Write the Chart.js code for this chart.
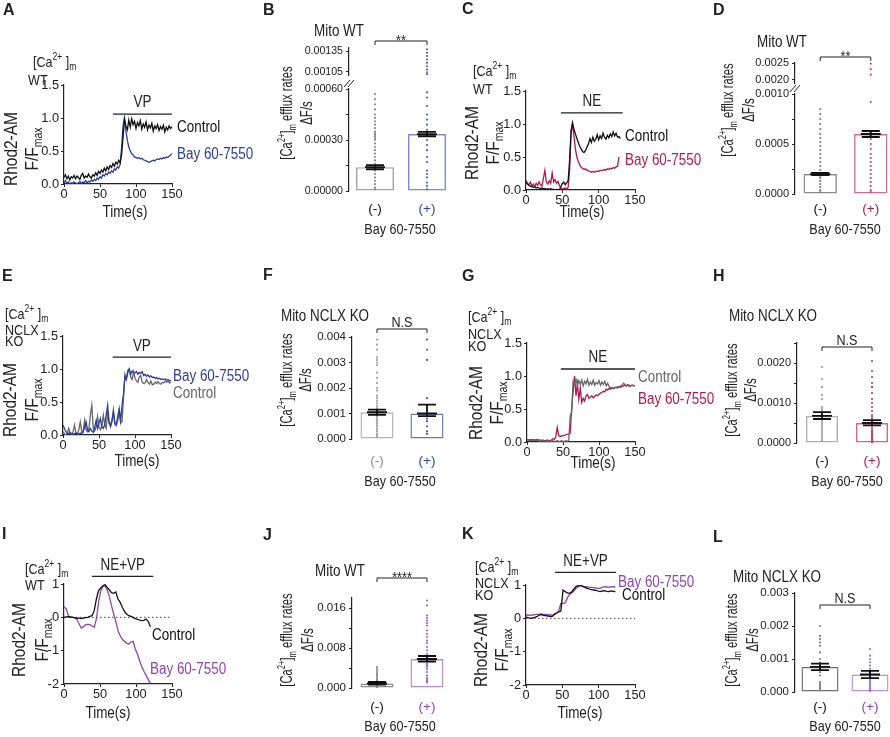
<!DOCTYPE html>
<html>
<head>
<meta charset="utf-8">
<title>Mitochondrial Ca2+ efflux</title>
<script src="https://cdn.jsdelivr.net/npm/chart.js@4.4.1/dist/chart.umd.min.js"></script>
<style>
  html, body { margin: 0; padding: 0; background: #fff; }
  body { position: relative; width: 890px; height: 737px; overflow: hidden; }
  canvas { position: absolute; }
</style>
</head>
<body>
<script>
// ---------- shared axis values ----------
const timeTicks = [0, 50, 100, 150];
const timeLabels = ['0', '50', '100', '150'];
const fTicks = [0, 0.5, 1, 1.5];
const fLabels = ['0.0', '0.5', '1.0', '1.5'];
const dTicks = [-2, -1, 0, 1];
const dLabels = ['-2', '-1', '0', '1'];
const groups = ['(-)', '(+)'];

// ---------- traces (F/Fmax, one value every dt seconds) ----------
const aCtrl = [0.10,0.14,0.08,0.12,0.06,0.11,0.09,0.13,0.08,0.12,0.10,0.07,0.13,0.16,0.09,0.12,0.10,0.15,0.11,0.09,
  0.14,0.12,0.17,0.13,0.19,0.16,0.21,0.18,0.24,0.20,0.26,0.22,0.28,0.25,0.31,0.27,0.33,0.30,0.36,0.32,
  0.45,0.70,0.98,0.88,0.82,0.97,0.86,0.99,0.90,0.95,0.84,0.93,0.88,0.96,0.83,0.91,0.86,0.94,0.82,0.89,
  0.85,0.92,0.80,0.88,0.84,0.90,0.81,0.87,0.83,0.89,0.79,0.86,0.82,0.88,0.84,0.87];
const aBay = [0.02,0.05,0.01,0.03,0.00,0.02,0.01,0.03,0.02,0.00,0.02,0.04,0.01,0.03,0.02,0.05,0.02,0.04,0.03,0.06,
  0.04,0.07,0.05,0.09,0.07,0.11,0.09,0.14,0.12,0.16,0.14,0.18,0.16,0.20,0.18,0.23,0.21,0.26,0.24,0.30,
  0.55,0.88,1.00,0.80,0.66,0.56,0.50,0.46,0.44,0.41,0.40,0.39,0.40,0.38,0.39,0.37,0.36,0.35,0.34,0.33,
  0.34,0.35,0.36,0.35,0.37,0.38,0.37,0.39,0.38,0.40,0.39,0.41,0.40,0.42,0.44,0.46];
const cCtrl = [0.12,0.09,0.07,0.06,0.05,0.04,0.05,0.03,0.04,0.03,0.02,0.03,0.02,0.02,0.01,0.02,0.01,0.02,0.01,0.01,
  0.00,0.01,0.00,0.01,0.05,0.10,0.12,0.08,0.11,0.14,0.45,0.90,1.02,0.92,0.85,0.78,0.72,0.66,0.62,0.58,
  0.57,0.60,0.65,0.70,0.78,0.72,0.80,0.74,0.77,0.84,0.76,0.82,0.78,0.86,0.80,0.77,0.83,0.79,0.85,0.81,
  0.88,0.82,0.86,0.80,0.81,0.78];
const cBay = [0.15,0.10,0.08,0.12,0.06,0.09,0.05,0.10,0.07,0.12,0.08,0.06,0.18,0.30,0.12,0.09,0.14,0.10,0.26,0.12,
  0.16,0.10,0.13,0.07,0.03,0.02,0.02,0.03,0.02,0.04,0.30,0.85,1.00,0.82,0.62,0.50,0.43,0.38,0.34,0.33,
  0.31,0.32,0.30,0.29,0.28,0.27,0.28,0.27,0.28,0.29,0.28,0.30,0.29,0.30,0.31,0.30,0.32,0.31,0.33,0.32,
  0.34,0.33,0.35,0.36,0.50];
const eCtrl = [0.05,0.02,0.00,0.03,0.10,0.02,0.01,0.05,0.15,0.03,0.02,0.08,0.20,0.05,0.04,0.22,0.08,0.05,0.10,0.30,
  0.45,0.10,0.06,0.12,0.28,0.12,0.08,0.14,0.30,0.15,0.10,0.33,0.18,0.12,0.20,0.38,0.16,0.14,0.22,0.35,
  0.18,0.20,0.55,0.92,0.85,0.98,1.00,0.88,0.84,0.96,0.86,0.82,0.80,0.88,0.90,0.80,0.78,0.79,0.84,0.80,
  0.77,0.82,0.76,0.77,0.80,0.78,0.81,0.78,0.77,0.80,0.79,0.82,0.80,0.81,0.79,0.80];
const eBay = [0.15,0.10,0.05,0.03,0.02,0.04,0.02,0.01,0.02,0.03,0.02,0.01,0.03,0.02,0.05,0.12,0.20,0.08,0.05,0.10,
  0.06,0.04,0.12,0.22,0.10,0.18,0.25,0.12,0.10,0.16,0.30,0.45,0.20,0.15,0.22,0.35,0.18,0.16,0.28,0.40,
  0.22,0.45,0.62,0.88,0.84,0.95,1.00,0.92,0.97,0.95,0.94,0.96,0.92,0.95,0.93,0.96,0.90,0.92,0.89,0.91,
  0.88,0.90,0.87,0.88,0.86,0.87,0.85,0.86,0.84,0.85,0.84,0.85,0.83,0.84,0.82,0.83];
const gCtrl = [0.03,0.03,0.02,0.03,0.02,0.02,0.03,0.02,0.02,0.01,0.02,0.02,0.01,0.02,0.01,0.02,0.01,0.01,0.02,0.01,
  0.01,0.02,0.01,0.01,0.02,0.01,0.01,0.02,0.01,0.02,0.40,0.45,0.92,0.88,0.95,0.86,0.93,0.87,0.94,0.85,
  0.92,0.88,0.95,0.86,0.91,0.87,0.94,0.86,0.90,0.88,0.93,0.86,0.91,0.87,0.92,0.85,0.89,0.84,0.82,0.83,
  0.81,0.83,0.82,0.84,0.83,0.85,0.86,0.89,0.87,0.85,0.86,0.84,0.85,0.86,0.85,0.85];
const gBay = [0.04,0.03,0.04,0.03,0.04,0.03,0.03,0.04,0.03,0.03,0.02,0.03,0.02,0.02,0.03,0.02,0.02,0.03,0.05,0.04,
  0.08,0.22,0.10,0.08,0.10,0.09,0.10,0.11,0.12,0.12,0.13,0.50,0.75,1.00,0.70,0.88,0.65,0.82,0.60,0.66,
  0.62,0.70,0.72,0.66,0.68,0.70,0.67,0.69,0.71,0.70,0.72,0.74,0.75,0.77,0.76,0.80,0.79,0.81,0.80,0.82,
  0.81,0.82,0.83,0.82,0.84,0.83,0.84,0.85,0.86,0.85,0.87,0.86,0.85,0.86,0.85,0.86];
const iCtrl = [0.00,0.01,0.02,0.01,0.00,-0.01,-0.03,-0.02,-0.04,-0.02,-0.01,0.00,0.03,0.05,0.20,0.55,0.80,0.88,0.95,0.98,
  0.90,0.82,0.74,0.72,0.76,0.55,0.45,0.30,0.18,0.10,0.05,0.03,0.00,-0.04,-0.06,-0.08,-0.10,-0.09,-0.05,-0.12,-0.28];
const iBay = [0.32,0.26,0.05,0.00,0.00,-0.02,-0.06,-0.20,-0.32,-0.28,-0.22,-0.21,-0.22,-0.26,-0.30,-0.05,0.45,0.80,0.92,0.95,
  0.82,0.62,0.35,0.10,-0.12,-0.40,-0.55,-0.66,-0.72,-0.78,-0.80,-0.74,-0.72,-0.95,-1.10,-1.30,-1.48,-1.62,-1.74,-1.86,-1.98];
const kCtrl = [0.04,0.02,0.00,0.01,0.03,0.05,0.10,0.11,0.09,0.08,0.07,0.06,0.05,0.12,0.16,0.19,0.22,0.85,0.80,0.76,
  0.75,0.80,0.88,0.96,0.98,1.00,0.96,0.93,0.90,0.88,0.86,0.85,0.84,0.82,0.80,0.82,0.83,0.81,0.80,0.82,0.81,0.80];
const kBay = [0.10,0.10,0.09,0.10,0.11,0.12,0.12,0.13,0.12,0.12,0.11,0.10,0.10,0.11,0.15,0.22,0.45,0.45,0.46,0.62,
  0.72,0.76,0.82,0.90,0.95,0.97,0.96,0.95,0.94,0.93,0.93,0.92,0.91,0.90,0.90,0.93,0.95,0.94,0.93,0.95,0.94,0.95];

// ---------- efflux rates (dF/s): means, SEM limits, single cells ----------
const bMeans = [0.00014, 0.000335];
const bLo = [0.000128, 0.000322];
const bHi = [0.000152, 0.000348];
const bNeg = [0.00057,0.00054,0.00051,0.00048,0.00045,0.00043,0.00041,0.00039,0.00037,0.00035,0.00034,0.00033,0.00032,0.00031,0.0003,
  0.00028,0.00026,0.00024,0.00022,0.0002,0.00018,0.00016,0.00015,0.00014,0.00013,0.00012,0.0001,0.00008,0.00006,0.00004,0.00002,0.00001];
const bPos = [0.00058,0.00055,0.0005,0.00045,0.00042,0.00039,0.00036,0.00033,0.0003,0.00027,0.00024,0.0002,0.00017,0.00012,0.0001,0.00008,0.00005,0.00003,0.00001];
const bPosHigh = [0.00138,0.00133,0.00128,0.00123,0.00118,0.00113,0.00108,0.00104,0.00101];

const dMeans = [0.0002, 0.0006];
const dLo = [0.00019, 0.00057];
const dHi = [0.00021, 0.00063];
const dNeg = [0.00085,0.0008,0.00075,0.0007,0.00065,0.0006,0.00056,0.00052,0.00048,0.00044,0.0004,0.00036,0.00032,0.00028,0.00024,0.0002,0.00018,0.00016,0.00013,0.0001,0.00007,0.00004,0.00002];
const dPos = [0.00092,0.00062,0.00058,0.00055,0.0005,0.00045,0.0004,0.00036,0.00032,0.00028,0.00024,0.0002,0.00016,0.00012,0.00008,0.00004,0.00002];
const dPosHigh = [0.00248,0.00232,0.00215];

const fMeans = [0.00105, 0.001];
const fLo = [0.00095, 0.0009];
const fHi = [0.00115, 0.00135];
const fNeg = [0.0039,0.0037,0.0035,0.0032,0.0031,0.003,0.0029,0.0026,0.0024,0.0022,0.002,0.0019,0.0017,0.0016,0.0015,0.0014,0.0013,0.0012,0.0012,0.0011,0.0011,
  0.001,0.001,0.0009,0.0009,0.0008,0.0008,0.0007,0.0007,0.0006,0.0006,0.0005,0.0005,0.0004,0.0004,0.0003,0.0003,0.0002,0.0002,0.0001,0.0001];
const fPos = [0.0039,0.0035,0.0031,0.0016,0.0013,0.001,0.0009,0.0008,0.0007,0.0005,0.0003,0.0002];

const hMeans = [0.00068, 0.0005];
const hLo = [0.0006, 0.00044];
const hHi = [0.00077, 0.00057];
const hNeg = [0.0019,0.0016,0.0014,0.0014,0.0012,0.0011,0.0009,0.00085,0.0008,0.0007,0.0006,0.00055,0.0005,0.00045,0.0004,0.00035,0.0003,0.00025,0.0002,0.00015,0.0001,0.00005];
const hPos = [0.00205,0.0018,0.00165,0.0015,0.0014,0.0014,0.00125,0.0011,0.001,0.0009,0.0008,0.0007,0.00065,0.0006,0.00055,0.0005,0.00045,0.0004,0.00035,0.0003,
  0.00028,0.00025,0.00022,0.0002,0.00018,0.00015,0.00012,0.0001,0.00008,0.00005,0.00003,0.00001];

const jMeans = [0.0009, 0.0058];
const jLo = [0.0007, 0.0053];
const jHi = [0.0012, 0.0064];
const jNeg = [0.0042,0.0038,0.0034,0.003,0.0027,0.0024,0.002,0.0017,0.0015,0.0013,0.0011,0.001,0.0009,0.0008,0.0007,0.0006,0.0005,0.0004,0.0003,0.0002,0.0001];
const jPos = [0.0175,0.0165,0.0145,0.014,0.0135,0.013,0.0125,0.0115,0.0108,0.0102,0.0095,0.009,0.0082,0.0075,0.0068,0.006,0.0056,0.0052,0.0048,0.0045,
  0.0042,0.0038,0.0032,0.0025,0.002,0.0018,0.0015,0.0013,0.0011];

const lMeans = [0.00076, 0.00053];
const lLo = [0.00066, 0.00042];
const lHi = [0.00086, 0.00064];
const lNeg = [0.002,0.0017,0.0016,0.0015,0.0014,0.0012,0.001,0.0009,0.0008,0.0007,0.0006,0.0005,0.0003,0.00025,0.0002,0.00015,0.0001,0.00005];
const lPos = [0.0013,0.0011,0.001,0.0009,0.0008,0.0007,0.0006,0.0005,0.00045,0.0004,0.00035,0.0003,0.00025,0.0002,0.00015,0.0001,0.00008,0.00005,0.00003];

// ---------- look ----------
const INK = '#222';
const BLUE = '#2c3c9c', CRIM = '#b3174f', PURP = '#8e44b3', GRAY = '#666';
const M = { l: 100, t: 100, r: 110, b: 60 };

// narrow font if the system has it, else a regular sans squeezed sideways
const probe = document.createElement('canvas').getContext('2d');
probe.font = '20px monospace';
const wMono = probe.measureText('Control 60-7550').width;
probe.font = '20px "Liberation Sans Narrow", monospace';
const hasNarrow = probe.measureText('Control 60-7550').width !== wMono;
const FAM = hasNarrow ? '"Liberation Sans Narrow", "Arial Narrow", sans-serif' : '"Liberation Sans", Arial, sans-serif';
const KF = hasNarrow ? 1 : 0.85;
const SX = hasNarrow ? 1 : 0.84;
const fs = n => Math.round(n * KF * 10) / 10;

Chart.defaults.font.family = FAM;
Chart.defaults.color = INK;

function place(plot) {
  const c = document.createElement('canvas');
  const w = plot.r - plot.l + M.l + M.r, h = plot.b - plot.t + M.t + M.b;
  c.width = w; c.height = h;
  Object.assign(c.style, { left: (plot.l - M.l) + 'px', top: (plot.t - M.t) + 'px', width: w + 'px', height: h + 'px' });
  document.body.appendChild(c);
  return c;
}

// text with ^sup and _sub pieces
function txt(ctx, parts, x, y, o = {}) {
  const size = o.size || 15;
  const fam = o.bold ? '"Liberation Sans", Arial, sans-serif' : FAM;
  const wt = o.bold ? 'bold ' : '';
  const segs = (Array.isArray(parts) ? parts : [parts]).map(p => {
    if (p[0] === '^') return { s: p.slice(1), f: size * 0.68, dy: -size * 0.4 };
    if (p[0] === '_') return { s: p.slice(1), f: size * 0.68, dy: size * 0.3 };
    return { s: p, f: size, dy: 0 };
  });
  ctx.save();
  ctx.fillStyle = o.color || INK;
  ctx.textBaseline = o.base || 'middle';
  ctx.textAlign = 'left';
  let total = 0;
  segs.forEach(g => { ctx.font = wt + g.f + 'px ' + fam; g.w = ctx.measureText(g.s).width; total += g.w; });
  ctx.translate(x, y);
  if (o.rot) ctx.rotate(-Math.PI / 2);
  if (!o.bold && !hasNarrow) ctx.scale(o.sx || SX, 1);
  let cx = o.align === 'center' ? -total / 2 : o.align === 'right' ? -total : 0;
  segs.forEach(g => { ctx.font = wt + g.f + 'px ' + fam; ctx.fillText(g.s, cx, g.dy); cx += g.w; });
  ctx.restore();
}

function axis(kind, min, max, ticks, labels, size, pad) {
  return {
    type: 'linear', min, max,
    afterBuildTicks: s => { s.ticks = ticks.map(v => ({ value: v })); },
    afterFit: s => { if (kind === 'x') s.height = M.b; else s.width = M.l; },
    grid: { drawOnChartArea: false, drawTicks: true, tickLength: 3, color: INK, lineWidth: 1 },
    border: { display: true, color: INK, width: 1.2 },
    ticks: { padding: pad, color: INK, font: { size: fs(size) }, autoSkip: false, maxRotation: 0,
      callback: (v, i) => labels[i] }
  };
}

function baseOpts(scales, hiddenX) {
  return {
    responsive: false, animation: false, events: [],
    layout: { padding: { left: 0, top: M.t, right: M.r, bottom: hiddenX ? M.b : 0 } },
    plugins: { legend: { display: false }, tooltip: { enabled: false } },
    scales
  };
}

function tracePanel(p) {
  const cv = place(p.plot);
  const ox = p.plot.l - M.l, oy = p.plot.t - M.t;
  new Chart(cv, {
    type: 'line',
    data: { datasets: p.series.map(s => ({
      data: s.y.map((v, i) => ({ x: i * s.dt, y: v })),
      borderColor: s.color, borderWidth: 1.3, pointRadius: 0, tension: 0, fill: false
    })) },
    options: baseOpts({
      x: axis('x', 0, 150, timeTicks, timeLabels, 15, 0),
      y: axis('y', p.ymin, p.ymax, p.yTicks, p.yLabels, 15, 2)
    }),
    plugins: [{
      id: 'anno',
      beforeDatasetsDraw(ch) {
        if (!p.zero) return;
        const { x, y } = ch.scales, c = ch.ctx, y0 = y.getPixelForValue(0);
        c.save(); c.strokeStyle = '#444'; c.lineWidth = 1; c.setLineDash([1.5, 2.5]);
        c.beginPath(); c.moveTo(x.getPixelForValue(0), y0); c.lineTo(x.getPixelForValue(150), y0); c.stroke();
        c.restore();
      },
      afterDraw(ch) {
        const { x, y } = ch.scales, c = ch.ctx, d = p.drug;
        const x1 = x.getPixelForValue(d.from), x2 = x.getPixelForValue(d.to), yb = y.getPixelForValue(d.y);
        c.save(); c.strokeStyle = INK; c.lineWidth = 1.3;
        c.beginPath(); c.moveTo(x1, yb); c.lineTo(x2, yb); c.stroke(); c.restore();
        txt(c, d.text, (x1 + x2) / 2, yb - 11, { align: 'center', size: 16 });
        p.labels.forEach(l => txt(c, l[0], l[1] - ox, l[2] - oy, { color: l[3], size: 16 }));
        p.head.forEach(h => txt(c, h[0], h[1] - ox, h[2] - oy, { size: 15 }));
        txt(c, 'Rhod2-AM', p.yt[0] - ox, p.yt[2] - oy, { rot: true, align: 'center', size: 18, sx: 0.86 });
        txt(c, ['F/F', '_max'], p.yt[1] - ox, p.yt[2] - oy, { rot: true, align: 'center', size: 18, sx: 0.86 });
        txt(c, 'Time(s)', p.time[0] - ox, p.time[1] - oy, { align: 'center', size: 16 });
        txt(c, p.letter[0], p.letter[1] - ox, p.letter[2] - oy, { bold: true, size: 16 });
      }
    }]
  });
}

function dots(vals, g, col) {
  return { type: 'scatter', data: vals.map(v => ({ x: groups[g], y: v })), order: 1,
    pointRadius: 1.1, backgroundColor: col, borderColor: col, pointBorderWidth: 0 };
}

function barPanel(p) {
  const cv = place(p.plot);
  const ox = p.plot.l - M.l, oy = p.plot.t - M.t;
  new Chart(cv, {
    type: 'bar',
    data: { labels: groups, datasets: [
      { data: p.means, backgroundColor: 'rgba(255,255,255,0)', borderColor: p.barColors, borderWidth: 1.4,
        borderSkipped: false, barPercentage: p.barW, categoryPercentage: 1, order: 2 },
      dots(p.neg, 0, p.dotColors[0]),
      dots(p.pos, 1, p.dotColors[1])
    ] },
    options: baseOpts({
      x: { type: 'category', offset: true, afterFit: s => { s.height = M.b; },
        grid: { display: false, drawTicks: false }, border: { display: false },
        ticks: { padding: p.catPad, font: { size: fs(16) }, color: c => p.catColors[c.index] } },
      y: axis('y', 0, p.ymax, p.yTicks, p.yLabels, p.tickSize, 3)
    }),
    plugins: [{
      id: 'sem',
      afterDatasetsDraw(ch) {
        const c = ch.ctx, ys = ch.scales.y, h = 9;
        c.save(); c.strokeStyle = '#111'; c.lineWidth = 1.8;
        ch.getDatasetMeta(0).data.forEach((bar, i) => {
          const yl = ys.getPixelForValue(p.lo[i]), yh = ys.getPixelForValue(p.hi[i]);
          c.beginPath();
          c.moveTo(bar.x, yl); c.lineTo(bar.x, yh);
          c.moveTo(bar.x - h, yl); c.lineTo(bar.x + h, yl);
          c.moveTo(bar.x - h, yh); c.lineTo(bar.x + h, yh);
          c.moveTo(bar.x - h - 1, bar.y); c.lineTo(bar.x + h + 1, bar.y);
          c.stroke();
        });
        c.restore();
      },
      afterDraw(ch) {
        const c = ch.ctx, xs = ch.scales.x;
        const x1 = xs.getPixelForValue(0), x2 = xs.getPixelForValue(1), yb = p.br - oy;
        c.save(); c.strokeStyle = INK; c.lineWidth = 1;
        c.beginPath(); c.moveTo(x1, yb + 4); c.lineTo(x1, yb); c.lineTo(x2, yb); c.lineTo(x2, yb + 4); c.stroke();
        if (p.upper) {
          const L = ch.chartArea.left, T = ch.chartArea.top;
          c.beginPath();
          c.moveTo(L - 5, T - 2); c.lineTo(L + 1, T - 9);
          c.moveTo(L - 1, T - 2); c.lineTo(L + 5, T - 9);
          c.stroke();
        }
        c.restore();
        txt(c, p.sig, (x1 + x2) / 2, p.sigY - oy, { align: 'center', size: 15, base: 'alphabetic' });
        txt(c, p.title[0], p.title[1] - ox, p.title[2] - oy, { align: 'center', size: 16 });
        txt(c, ['[Ca', '^2+', ']', '_m', ' efflux rates'], p.yt[0] - ox, p.yt[2] - oy, { rot: true, align: 'center', size: 16, sx: 0.7 });
        txt(c, 'ΔF/s', p.yt[1] - ox, p.yt[2] - oy, { rot: true, align: 'center', size: 16, sx: 0.72 });
        txt(c, 'Bay 60-7550', p.bay[0] - ox, p.bay[1] - oy, { align: 'center', size: 15 });
        txt(c, p.letter[0], p.letter[1] - ox, p.letter[2] - oy, { bold: true, size: 16 });
      }
    }]
  });
  if (p.upper) {
    const u = p.upper;
    const cu = place({ l: p.plot.l, r: p.plot.r, t: u.t, b: u.b });
    new Chart(cu, {
      type: 'bar',
      data: { labels: groups, datasets: [dots(u.pos, 1, p.dotColors[1])] },
      options: baseOpts({
        x: { type: 'category', offset: true, display: false },
        y: axis('y', u.min, u.max, u.ticks, u.labels, p.tickSize, 3)
      }, true)
    });
  }
}

// ---------- panels ----------
const ca = ['[Ca', '^2+', ' ]', '_m'];

tracePanel({ plot: { l: 64, r: 172, t: 85, b: 184 }, ymin: 0, ymax: 1.5, yTicks: fTicks, yLabels: fLabels,
  series: [{ y: aCtrl, dt: 2, color: '#111' }, { y: aBay, dt: 2, color: BLUE }],
  drug: { text: 'VP', from: 68, to: 150, y: 1.06 },
  labels: [['Control', 177, 128, '#111'], ['Bay 60-7550', 177, 155, BLUE]],
  head: [[ca, 33, 63], ['WT', 28, 81]], yt: [12, 33, 149], time: [125, 213], letter: ['A', 3, 11] });

tracePanel({ plot: { l: 526, r: 635, t: 91, b: 190 }, ymin: 0, ymax: 1.5, yTicks: fTicks, yLabels: fLabels,
  series: [{ y: cCtrl, dt: 2, color: '#111' }, { y: cBay, dt: 2, color: CRIM }],
  drug: { text: 'NE', from: 48, to: 133, y: 1.17 },
  labels: [['Control', 625, 137, '#111'], ['Bay 60-7550', 625, 161, CRIM]],
  head: [[ca, 473, 72], ['WT', 473, 90]], yt: [473, 494, 143], time: [582, 213], letter: ['C', 462, 10] });

tracePanel({ plot: { l: 63, r: 171, t: 336, b: 435 }, ymin: 0, ymax: 1.5, yTicks: fTicks, yLabels: fLabels,
  series: [{ y: eBay, dt: 2, color: BLUE }, { y: eCtrl, dt: 2, color: GRAY }],
  drug: { text: 'VP', from: 69, to: 150, y: 1.18 },
  labels: [['Bay 60-7550', 173, 377, BLUE], ['Control', 173, 394, GRAY]],
  head: [[ca, 5, 315], ['NCLX', 5, 331], ['KO', 5, 342]], yt: [11, 33, 400], time: [137, 462], letter: ['E', 2, 277] });

tracePanel({ plot: { l: 527, r: 635, t: 343, b: 442 }, ymin: 0, ymax: 1.5, yTicks: fTicks, yLabels: fLabels,
  series: [{ y: gCtrl, dt: 2, color: GRAY }, { y: gBay, dt: 2, color: CRIM }],
  drug: { text: 'NE', from: 47, to: 150, y: 1.106 },
  labels: [['Control', 638, 378, GRAY], ['Bay 60-7550', 638, 400, CRIM]],
  head: [[ca, 468, 318], ['NCLX', 468, 335], ['KO', 468, 347]], yt: [477, 498, 403], time: [593, 464], letter: ['G', 462, 277] });

tracePanel({ plot: { l: 64, r: 172, t: 584, b: 684 }, ymin: -2, ymax: 1, yTicks: dTicks, yLabels: dLabels, zero: true,
  series: [{ y: iCtrl, dt: 3, color: '#111' }, { y: iBay, dt: 3, color: PURP }],
  drug: { text: 'NE+VP', from: 39, to: 124, y: 1.23 },
  labels: [['Control', 152, 636, '#111'], ['Bay 60-7550', 150, 670, PURP]],
  head: [[ca, 25, 570], ['WT', 25, 586]], yt: [20, 43, 640], time: [108, 714], letter: ['I', 2, 535] });

tracePanel({ plot: { l: 526, r: 635, t: 585, b: 685 }, ymin: -2, ymax: 1, yTicks: dTicks, yLabels: dLabels, zero: true,
  series: [{ y: kCtrl, dt: 3, color: '#111' }, { y: kBay, dt: 3, color: PURP }],
  drug: { text: 'NE+VP', from: 40, to: 124, y: 1.38 },
  labels: [['Bay 60-7550', 618, 583, PURP], ['Control', 622, 596, '#111']],
  head: [[ca, 475, 568], ['NCLX', 475, 584], ['KO', 475, 596]], yt: [482, 503, 650], time: [580, 714], letter: ['K', 462, 535] });

barPanel({ plot: { l: 349, r: 453, t: 89, b: 191 }, ymax: 0.0006,
  yTicks: [0, 0.00015, 0.0003, 0.00045, 0.0006], yLabels: ['0.00000', '', '0.00030', '', '0.00060'], tickSize: 12.5,
  means: bMeans, lo: bLo, hi: bHi, neg: bNeg, pos: bPos,
  barColors: ['#a3a3a3', '#7f88d0'], dotColors: ['#8a8a8a', '#5560b8'], catColors: ['#111', '#3447a5'], barW: 0.73, catPad: 10,
  upper: { t: 48, b: 75, min: 0.001, max: 0.0014, ticks: [0.00105, 0.00135], labels: ['0.00105', '0.00135'], pos: bPosHigh },
  title: ['Mito WT', 339, 32], br: 41, sig: '**', sigY: 45, yt: [288, 308, 113], bay: [400, 230], letter: ['B', 263, 11] });

barPanel({ plot: { l: 795, r: 896, t: 94, b: 194 }, ymax: 0.001,
  yTicks: [0, 0.00025, 0.0005, 0.00075, 0.001], yLabels: ['0.0000', '', '0.0005', '', '0.0010'], tickSize: 13,
  means: dMeans, lo: dLo, hi: dHi, neg: dNeg, pos: dPos,
  barColors: ['#8c8c8c', '#d86a8e'], dotColors: ['#7a7a7a', '#c8436f'], catColors: ['#111', CRIM], barW: 0.66, catPad: 7,
  upper: { t: 63, b: 83, min: 0.0019, max: 0.0025, ticks: [0.002, 0.0025], labels: ['0.0020', '0.0025'], pos: dPosHigh },
  title: ['Mito WT', 782, 43], br: 57, sig: '**', sigY: 61, yt: [729, 750, 110], bay: [845, 230], letter: ['D', 713, 11] });

barPanel({ plot: { l: 352, r: 452, t: 337, b: 439 }, ymax: 0.004,
  yTicks: [0, 0.001, 0.002, 0.003, 0.004], yLabels: ['0.000', '0.001', '0.002', '0.003', '0.004'], tickSize: 13.5,
  means: fMeans, lo: fLo, hi: fHi, neg: fNeg, pos: fPos,
  barColors: ['#b3b3b3', '#6a74c6'], dotColors: ['#a0a0a0', '#4a55b0'], catColors: ['#8a8a8a', '#3447a5'], barW: 0.66, catPad: 14,
  title: ['Mito NCLX KO', 325, 317], br: 329, sig: 'N.S', sigY: 327, yt: [288, 307, 380], bay: [400, 482], letter: ['F', 263, 276] });

barPanel({ plot: { l: 797, r: 897, t: 343, b: 443 }, ymax: 0.0025,
  yTicks: [0, 0.0005, 0.001, 0.0015, 0.002, 0.0025], yLabels: ['0.0000', '', '0.0010', '', '0.0020', ''], tickSize: 13,
  means: hMeans, lo: hLo, hi: hHi, neg: hNeg, pos: hPos,
  barColors: ['#b0b0b0', '#d0688a'], dotColors: ['#9a9a9a', '#c43a6a'], catColors: ['#111', CRIM], barW: 0.64, catPad: 10,
  title: ['Mito NCLX KO', 773, 317], br: 347, sig: 'N.S', sigY: 345, yt: [733, 752, 390], bay: [847, 482], letter: ['H', 713, 277] });

barPanel({ plot: { l: 352, r: 452, t: 598, b: 688 }, ymax: 0.018,
  yTicks: [0, 0.004, 0.008, 0.012, 0.016], yLabels: ['0.000', '', '0.008', '', '0.016'], tickSize: 13.5,
  means: jMeans, lo: jLo, hi: jHi, neg: jNeg, pos: jPos,
  barColors: ['#8a8a8a', '#b98ad8'], dotColors: ['#8a8a8a', '#a064c8'], catColors: ['#111', PURP], barW: 0.66, catPad: 11,
  title: ['Mito WT', 340, 572], br: 578, sig: '****', sigY: 582, yt: [288, 309, 640], bay: [400, 727], letter: ['J', 263, 536] });

barPanel({ plot: { l: 795, r: 895, t: 593, b: 692 }, ymax: 0.003,
  yTicks: [0, 0.001, 0.002, 0.003], yLabels: ['0.000', '0.001', '0.002', '0.003'], tickSize: 13.5,
  means: lMeans, lo: lLo, hi: lHi, neg: lNeg, pos: lPos,
  barColors: ['#707070', '#bb8fd9'], dotColors: ['#808080', '#a86fcf'], catColors: ['#111', PURP], barW: 0.74, catPad: 7,
  title: ['Mito NCLX KO', 777, 578], br: 605, sig: 'N.S', sigY: 603, yt: [733, 754, 640], bay: [845, 727], letter: ['L', 713, 538] });
</script>
</body>
</html>
